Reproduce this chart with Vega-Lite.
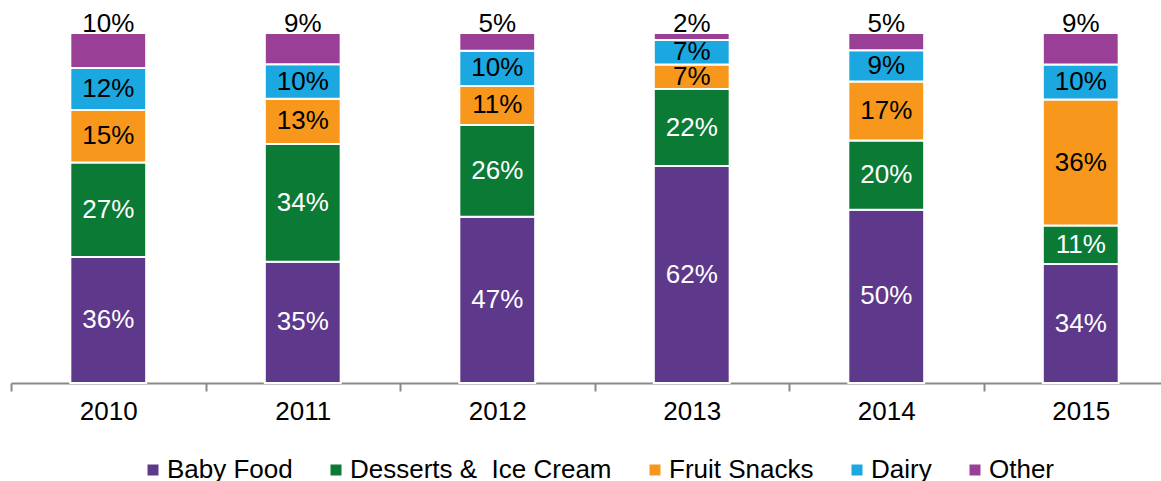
{
  "$schema": "https://vega.github.io/schema/vega-lite/v6.json",
  "width": 1167,
  "height": 350,
  "autosize": {"type": "none"},
  "padding": {"left": 11, "top": 33, "right": 0, "bottom": 98},
  "background": "white",
  "config": {
    "view": {"stroke": null},
    "font": "Liberation Sans",
    "text": {"font": "Liberation Sans"}
  },
  "data": {
    "values": [
      {"year": "2010", "cat": "Baby Food", "v": 0.36},
      {"year": "2010", "cat": "Desserts & \u00a0Ice Cream", "v": 0.27},
      {"year": "2010", "cat": "Fruit Snacks", "v": 0.15},
      {"year": "2010", "cat": "Dairy", "v": 0.12},
      {"year": "2010", "cat": "Other", "v": 0.10},
      {"year": "2011", "cat": "Baby Food", "v": 0.35},
      {"year": "2011", "cat": "Desserts & \u00a0Ice Cream", "v": 0.34},
      {"year": "2011", "cat": "Fruit Snacks", "v": 0.13},
      {"year": "2011", "cat": "Dairy", "v": 0.10},
      {"year": "2011", "cat": "Other", "v": 0.09},
      {"year": "2012", "cat": "Baby Food", "v": 0.47},
      {"year": "2012", "cat": "Desserts & \u00a0Ice Cream", "v": 0.26},
      {"year": "2012", "cat": "Fruit Snacks", "v": 0.11},
      {"year": "2012", "cat": "Dairy", "v": 0.10},
      {"year": "2012", "cat": "Other", "v": 0.05},
      {"year": "2013", "cat": "Baby Food", "v": 0.62},
      {"year": "2013", "cat": "Desserts & \u00a0Ice Cream", "v": 0.22},
      {"year": "2013", "cat": "Fruit Snacks", "v": 0.07},
      {"year": "2013", "cat": "Dairy", "v": 0.07},
      {"year": "2013", "cat": "Other", "v": 0.02},
      {"year": "2014", "cat": "Baby Food", "v": 0.50},
      {"year": "2014", "cat": "Desserts & \u00a0Ice Cream", "v": 0.20},
      {"year": "2014", "cat": "Fruit Snacks", "v": 0.17},
      {"year": "2014", "cat": "Dairy", "v": 0.09},
      {"year": "2014", "cat": "Other", "v": 0.05},
      {"year": "2015", "cat": "Baby Food", "v": 0.34},
      {"year": "2015", "cat": "Desserts & \u00a0Ice Cream", "v": 0.11},
      {"year": "2015", "cat": "Fruit Snacks", "v": 0.36},
      {"year": "2015", "cat": "Dairy", "v": 0.10},
      {"year": "2015", "cat": "Other", "v": 0.09}
    ]
  },
  "transform": [
    {"calculate": "indexof(['Baby Food','Desserts & \u00a0Ice Cream','Fruit Snacks','Dairy','Other'], datum.cat)", "as": "k"}
  ],
  "encoding": {
    "x": {
      "field": "year",
      "type": "nominal",
      "scale": {"paddingInner": 0, "paddingOuter": 0},
      "axis": {
        "title": null,
        "labelAngle": 0,
        "labelFontSize": 26,
        "labelFont": "Liberation Sans",
        "labelColor": "black",
        "labelPadding": 7,
        "domainColor": "#898989",
        "domainWidth": 2,
        "tickColor": "#898989",
        "tickWidth": 2,
        "tickSize": 8,
        "tickBand": "extent",
        "grid": false
      }
    }
  },
  "layer": [
    {
      "mark": {"type": "bar", "width": {"band": 0.39}, "stroke": "white", "strokeWidth": 2},
      "encoding": {
        "y": {"field": "v", "type": "quantitative", "stack": "normalize", "axis": null, "scale": {"domain": [0, 1], "nice": false}},
        "order": {"field": "k", "type": "quantitative", "sort": "ascending"},
        "color": {
          "field": "cat",
          "type": "nominal",
          "scale": {
            "domain": ["Baby Food", "Desserts & \u00a0Ice Cream", "Fruit Snacks", "Dairy", "Other"],
            "range": ["#5E388B", "#0A7A35", "#F7981D", "#1BA7E0", "#9A3F96"]
          },
          "legend": {
            "title": null,
            "orient": "none",
            "legendX": 129,
            "legendY": 424,
            "direction": "horizontal",
            "symbolType": "square",
            "symbolSize": 121,
            "symbolStrokeWidth": 0,
            "labelFontSize": 26,
            "labelFont": "Liberation Sans",
            "labelColor": "black",
            "labelOffset": 1,
            "columnPadding": 30,
            "padding": 0,
            "labelLimit": 400
          }
        }
      }
    },
    {
      "mark": {"type": "text", "fontSize": 26, "font": "Liberation Sans", "baseline": "middle", "align": "center"},
      "encoding": {
        "y": {"field": "v", "type": "quantitative", "stack": "normalize", "bandPosition": 0.5},
        "detail": {"field": "cat", "type": "nominal"},
        "order": {"field": "k", "type": "quantitative", "sort": "ascending"},
        "text": {"field": "v", "type": "quantitative", "format": ".0%"},
        "color": {"condition": {"test": "datum.k <= 1", "value": "white"}, "value": "black"},
        "opacity": {"condition": {"test": "datum.k == 4", "value": 0}, "value": 1}
      }
    },
    {
      "mark": {"type": "text", "fontSize": 26, "font": "Liberation Sans", "baseline": "alphabetic", "align": "center", "dy": -1, "color": "black"},
      "encoding": {
        "y": {"field": "v", "type": "quantitative", "stack": "normalize"},
        "detail": {"field": "cat", "type": "nominal"},
        "order": {"field": "k", "type": "quantitative", "sort": "ascending"},
        "text": {"field": "v", "type": "quantitative", "format": ".0%"},
        "opacity": {"condition": {"test": "datum.k == 4", "value": 1}, "value": 0}
      }
    }
  ]
}
